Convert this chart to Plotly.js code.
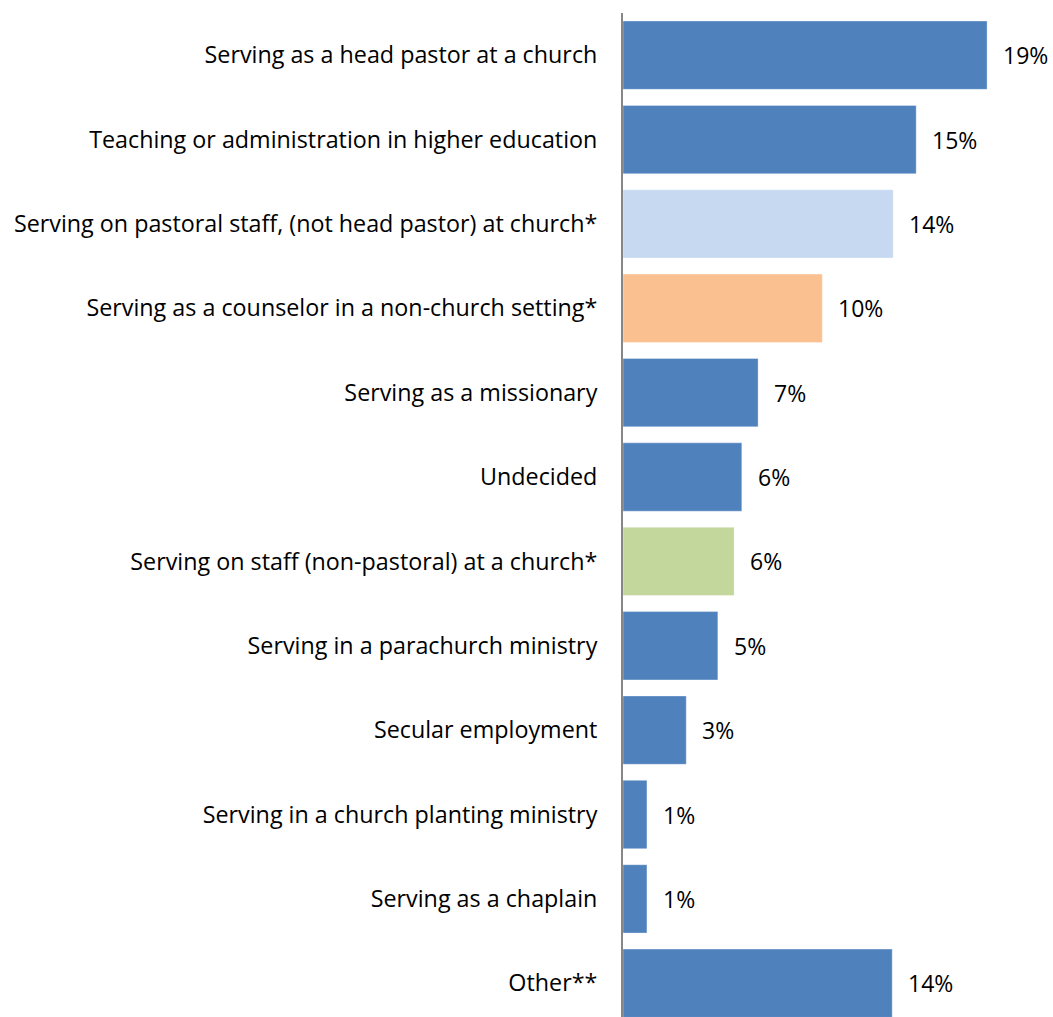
<!DOCTYPE html>
<html>
<head>
<meta charset="utf-8">
<script src="https://cdn.plot.ly/plotly-3.0.1.min.js"></script>
<style>html,body{margin:0;padding:0;background:#fff;}#chart{width:1053px;height:1017px;}</style>
</head>
<body>
<div id="chart"></div>
<script>
const categories = [
  "Serving as a head pastor at a church",
  "Teaching or administration in higher education",
  "Serving on pastoral staff, (not head pastor) at church*",
  "Serving as a counselor in a non-church setting*",
  "Serving as a missionary",
  "Undecided",
  "Serving on staff (non-pastoral) at a church*",
  "Serving in a parachurch ministry",
  "Secular employment",
  "Serving in a church planting ministry",
  "Serving as a chaplain",
  "Other**"
];
const values = [19.0, 15.3, 14.1, 10.4, 7.05, 6.2, 5.8, 4.95, 3.3, 1.25, 1.25, 14.05];
const valueLabels = ["19%", "15%", "14%", "10%", "7%", "6%", "6%", "5%", "3%", "1%", "1%", "14%"];
const barColors = ["#4F81BD", "#4F81BD", "#C6D9F1", "#FAC090", "#4F81BD", "#4F81BD", "#C3D69B", "#4F81BD", "#4F81BD", "#4F81BD", "#4F81BD", "#4F81BD"];

const FONT = "'Open Sans', sans-serif";

const trace = {
  type: "bar",
  orientation: "h",
  y: categories,
  x: values,
  marker: { color: barColors, line: { color: "rgba(255,255,255,0.35)", width: 1 } },
  hoverinfo: "none"
};

const annotations = categories.map((c, i) => ({
  x: values[i], y: c, xref: "x", yref: "y",
  text: valueLabels[i], showarrow: false,
  xanchor: "left", yanchor: "middle", xshift: 14,
  font: { family: FONT, size: 23, color: "#000" }
}));

const layout = {
  width: 1053, height: 1017,
  margin: { l: 623, r: 9, t: 13, b: 0 },
  paper_bgcolor: "#fff", plot_bgcolor: "#fff",
  showlegend: false,
  bargap: 0.19,
  xaxis: { range: [0, 21.97], visible: false, fixedrange: true },
  yaxis: {
    type: "category",
    range: [11.4, -0.5],
    showgrid: false, zeroline: false,
    showline: true, linecolor: "#868686", linewidth: 2,
    ticks: "", ticklabelstandoff: 19,
    tickfont: { family: FONT, size: 23.3, color: "#000" }
  },
  annotations: annotations,
  font: { family: FONT }
};

Plotly.newPlot("chart", [trace], layout, { displayModeBar: false, staticPlot: true });
</script>
</body>
</html>
